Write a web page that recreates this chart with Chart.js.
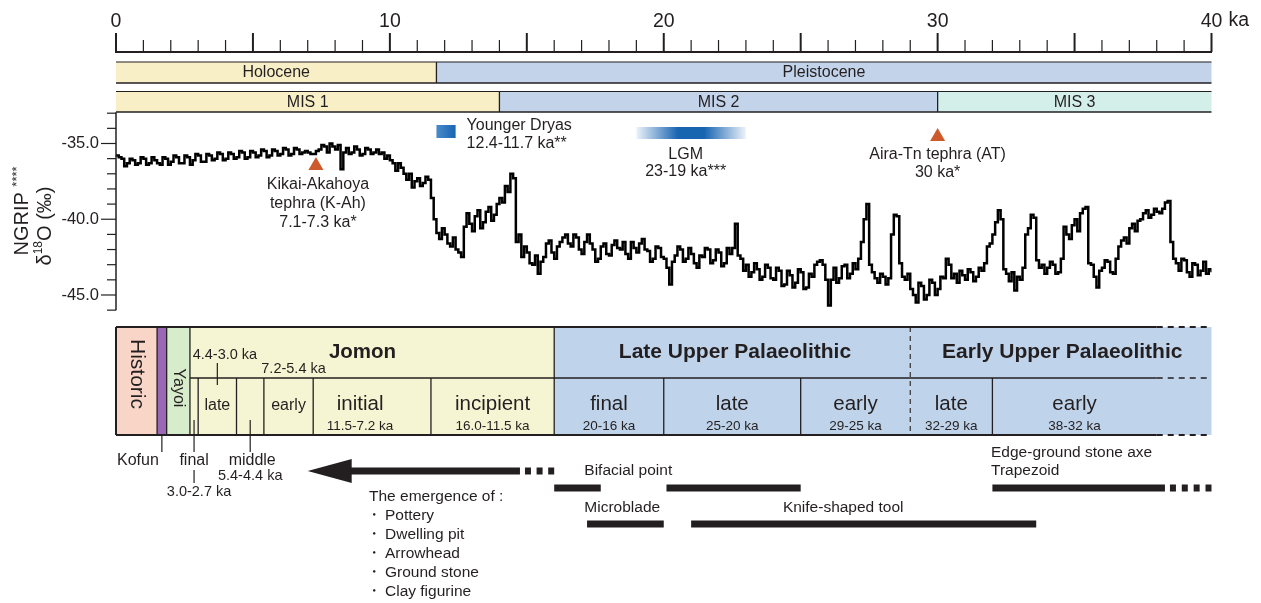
<!DOCTYPE html>
<html lang="en">
<head>
<meta charset="UTF-8">
<title>NGRIP d18O and Japanese archaeological periods, 0-40 ka</title>
<script src="https://cdn.jsdelivr.net/npm/chart.js"></script>
<style>
  body { margin: 0; background: #fff; }
  #wrap { width: 1261px; height: 603px; }
</style>
</head>
<body>
<div id="wrap"><canvas id="chart" width="1261" height="603"></canvas></div>
<script>
// ---- data (ka = thousand years ago) ----
const ages = [
  0.0, 0.1, 0.2, 0.3, 0.4, 0.5, 0.6, 0.7, 0.8, 0.9, 1.0, 1.1, 1.2, 1.3, 1.4, 1.5, 1.6, 1.7, 1.8, 1.9,
  2.0, 2.1, 2.2, 2.3, 2.4, 2.5, 2.6, 2.7, 2.8, 2.9, 3.0, 3.1, 3.2, 3.3, 3.4, 3.5, 3.6, 3.7, 3.8, 3.9,
  4.0, 4.1, 4.2, 4.3, 4.4, 4.5, 4.6, 4.7, 4.8, 4.9, 5.0, 5.1, 5.2, 5.3, 5.4, 5.5, 5.6, 5.7, 5.8, 5.9,
  6.0, 6.1, 6.2, 6.3, 6.4, 6.5, 6.6, 6.7, 6.8, 6.9, 7.0, 7.1, 7.2, 7.3, 7.4, 7.5, 7.6, 7.7, 7.8, 7.9,
  8.0, 8.1, 8.2, 8.3, 8.4, 8.5, 8.6, 8.7, 8.8, 8.9, 9.0, 9.1, 9.2, 9.3, 9.4, 9.5, 9.6, 9.7, 9.8, 9.9,
  10.0, 10.1, 10.2, 10.3, 10.4, 10.5, 10.6, 10.7, 10.8, 10.9, 11.0, 11.1, 11.2, 11.3, 11.4, 11.5, 11.6, 11.7, 11.8, 11.9,
  12.0, 12.1, 12.2, 12.3, 12.4, 12.5, 12.6, 12.7, 12.8, 12.9, 13.0, 13.1, 13.2, 13.3, 13.4, 13.5, 13.6, 13.7, 13.8, 13.9,
  14.0, 14.1, 14.2, 14.3, 14.4, 14.5, 14.6, 14.7, 14.8, 14.9, 15.0, 15.1, 15.2, 15.3, 15.4, 15.5, 15.6, 15.7, 15.8, 15.9,
  16.0, 16.1, 16.2, 16.3, 16.4, 16.5, 16.6, 16.7, 16.8, 16.9, 17.0, 17.1, 17.2, 17.3, 17.4, 17.5, 17.6, 17.7, 17.8, 17.9,
  18.0, 18.1, 18.2, 18.3, 18.4, 18.5, 18.6, 18.7, 18.8, 18.9, 19.0, 19.1, 19.2, 19.3, 19.4, 19.5, 19.6, 19.7, 19.8, 19.9,
  20.0, 20.1, 20.2, 20.3, 20.4, 20.5, 20.6, 20.7, 20.8, 20.9, 21.0, 21.1, 21.2, 21.3, 21.4, 21.5, 21.6, 21.7, 21.8, 21.9,
  22.0, 22.1, 22.2, 22.3, 22.4, 22.5, 22.6, 22.7, 22.8, 22.9, 23.0, 23.1, 23.2, 23.3, 23.4, 23.5, 23.6, 23.7, 23.8, 23.9,
  24.0, 24.1, 24.2, 24.3, 24.4, 24.5, 24.6, 24.7, 24.8, 24.9, 25.0, 25.1, 25.2, 25.3, 25.4, 25.5, 25.6, 25.7, 25.8, 25.9,
  26.0, 26.1, 26.2, 26.3, 26.4, 26.5, 26.6, 26.7, 26.8, 26.9, 27.0, 27.1, 27.2, 27.3, 27.4, 27.5, 27.6, 27.7, 27.8, 27.9,
  28.0, 28.1, 28.2, 28.3, 28.4, 28.5, 28.6, 28.7, 28.8, 28.9, 29.0, 29.1, 29.2, 29.3, 29.4, 29.5, 29.6, 29.7, 29.8, 29.9,
  30.0, 30.1, 30.2, 30.3, 30.4, 30.5, 30.6, 30.7, 30.8, 30.9, 31.0, 31.1, 31.2, 31.3, 31.4, 31.5, 31.6, 31.7, 31.8, 31.9,
  32.0, 32.1, 32.2, 32.3, 32.4, 32.5, 32.6, 32.7, 32.8, 32.9, 33.0, 33.1, 33.2, 33.3, 33.4, 33.5, 33.6, 33.7, 33.8, 33.9,
  34.0, 34.1, 34.2, 34.3, 34.4, 34.5, 34.6, 34.7, 34.8, 34.9, 35.0, 35.1, 35.2, 35.3, 35.4, 35.5, 35.6, 35.7, 35.8, 35.9,
  36.0, 36.1, 36.2, 36.3, 36.4, 36.5, 36.6, 36.7, 36.8, 36.9, 37.0, 37.1, 37.2, 37.3, 37.4, 37.5, 37.6, 37.7, 37.8, 37.9,
  38.0, 38.1, 38.2, 38.3, 38.4, 38.5, 38.6, 38.7, 38.8, 38.9, 39.0, 39.1, 39.2, 39.3, 39.4, 39.5, 39.6, 39.7, 39.8, 39.9,
  40.0
];
// NGRIP delta-18O (permil)
const d18O = [
  -35.8, -35.9, -36.0, -36.5, -36.3, -36.0, -36.1, -36.4, -36.3, -35.9, -36.0, -36.4, -36.3, -35.9, -36.1, -36.3, -36.4, -35.9, -36.0, -36.4,
  -36.2, -35.8, -35.9, -36.3, -36.3, -35.8, -35.9, -36.4, -36.1, -35.7, -35.8, -36.2, -36.2, -35.7, -35.8, -36.1, -36.0, -35.6, -35.7, -36.1,
  -36.0, -35.6, -35.7, -36.0, -35.9, -35.5, -35.6, -36.0, -35.9, -35.5, -35.6, -35.9, -35.8, -35.4, -35.5, -35.9, -35.8, -35.4, -35.5, -35.8,
  -35.7, -35.3, -35.4, -35.8, -35.7, -35.3, -35.4, -35.7, -35.6, -35.5, -35.6, -35.7, -35.7, -35.5, -35.4, -35.1, -35.2, -35.6, -35.0, -35.2,
  -35.4, -35.1, -36.7, -35.6, -35.3, -35.7, -35.6, -35.2, -35.4, -35.8, -35.7, -35.3, -35.4, -35.7, -35.6, -35.4, -35.7, -35.6, -36.0, -35.8,
  -36.1, -36.3, -36.8, -36.3, -36.6, -37.0, -37.4, -37.0, -37.9, -37.5, -37.3, -37.8, -37.6, -37.2, -37.4, -38.6, -40.0, -40.9, -41.3, -40.6,
  -41.0, -41.6, -41.8, -41.2, -42.0, -42.2, -42.5, -40.5, -39.6, -40.3, -40.8, -39.8, -39.4, -40.6, -40.2, -39.5, -39.2, -40.1, -39.7, -39.0,
  -38.6, -38.9, -37.8, -38.2, -37.0, -37.3, -41.5, -41.0, -42.5, -41.8, -42.2, -42.9, -43.0, -42.4, -43.6, -42.8, -42.5, -41.6, -41.4, -42.2,
  -42.6, -41.8, -41.5, -41.2, -41.0, -41.6, -41.8, -41.0, -41.2, -42.0, -42.3, -41.5, -41.0, -41.6, -42.0, -42.8, -42.6, -41.8, -41.6, -42.3,
  -42.4, -41.7, -41.4, -41.9, -42.0, -41.5, -42.3, -42.6, -41.5, -41.9, -42.2, -41.6, -41.3, -42.0, -42.1, -42.8, -42.6, -41.8, -41.9, -42.5,
  -42.6, -43.2, -44.3, -42.8, -42.4, -41.8, -42.0, -42.8, -42.6, -41.9, -42.3, -42.9, -43.2, -42.4, -42.5, -41.9, -42.0, -42.9, -42.7, -42.0,
  -42.2, -43.1, -42.9, -41.9, -42.3, -41.9, -40.3, -42.4, -42.6, -43.4, -43.0, -43.8, -43.5, -42.9, -43.3, -44.0, -43.8, -43.0, -43.2, -43.9,
  -44.0, -43.2, -43.4, -44.4, -44.3, -43.4, -43.7, -44.5, -44.2, -43.3, -43.5, -44.6, -44.5, -43.6, -43.8, -43.0, -42.8, -42.7, -43.0, -44.0,
  -45.7, -44.0, -43.2, -44.2, -43.9, -43.1, -43.0, -43.9, -43.6, -42.9, -43.3, -42.6, -41.5, -40.0, -39.0, -43.0, -43.5, -43.9, -44.2, -43.6,
  -43.8, -44.3, -43.9, -41.0, -39.7, -39.8, -42.9, -43.8, -44.0, -43.6, -44.6, -45.0, -45.5, -44.2, -44.4, -45.3, -45.0, -44.0, -44.2, -45.0,
  -44.6, -43.8, -43.9, -42.6, -43.0, -43.9, -43.6, -44.2, -43.4, -43.7, -44.0, -43.3, -43.5, -44.1, -43.8, -43.2, -43.4, -42.9, -41.8, -41.6,
  -41.0, -40.2, -39.4, -40.0, -43.3, -43.6, -44.1, -43.5, -44.7, -43.8, -44.0, -43.2, -41.0, -40.6, -39.7, -39.9, -42.7, -43.2, -43.0, -43.6,
  -43.2, -42.8, -43.0, -43.6, -43.5, -42.6, -40.5, -41.0, -41.3, -40.4, -40.0, -40.8, -39.6, -39.3, -39.2, -42.9, -43.0, -43.8, -44.5, -43.4,
  -43.2, -42.7, -42.8, -43.5, -43.6, -42.6, -41.8, -41.4, -41.2, -41.6, -40.6, -40.3, -40.8, -40.1, -40.0, -39.6, -39.4, -39.9, -39.7, -39.3,
  -39.5, -39.6, -39.3, -38.9, -38.8, -41.5, -42.6, -42.9, -43.4, -42.6, -42.7, -43.5, -43.8, -42.9, -43.0, -43.7, -43.4, -42.8, -43.6, -43.3,
  -43.5
];
const ageTicks = [0, 1, 2, 3, 4, 5, 6, 7, 8, 9, 10, 11, 12, 13, 14, 15, 16, 17, 18, 19, 20,
                  21, 22, 23, 24, 25, 26, 27, 28, 29, 30, 31, 32, 33, 34, 35, 36, 37, 38, 39, 40];
const d18OTicks = [-33, -34, -35, -36, -37, -38, -39, -40, -41, -42, -43, -44, -45, -46];

const epochNames = ['Holocene', 'Pleistocene'];
const epochStart = [0, 11.7];
const epochEnd = [11.7, 40];
const misNames = ['MIS 1', 'MIS 2', 'MIS 3'];
const misStart = [0, 14, 30];
const misEnd = [14, 30, 40];

const tephraAges = [7.3, 30];
const ydRange = [11.7, 12.4];
const lgmRange = [19, 23];

const fullNames = ['Historic', 'Kofun', 'Yayoi'];
const fullStart = [0, 1.5, 1.85];
const fullEnd = [1.5, 1.85, 2.7];
const groupNames = ['Jomon', 'Late Upper Palaeolithic', 'Early Upper Palaeolithic'];
const groupStart = [2.7, 16, 29];
const groupEnd = [16, 29, 40];
const subNames = ['final', 'late', 'middle', 'early', 'initial', 'incipient', 'final', 'late', 'early', 'late', 'early', ''];
const subStart = [2.7, 3.0, 4.4, 5.4, 7.2, 11.5, 16, 20, 25, 29, 32, 38];
const subEnd = [3.0, 4.4, 5.4, 7.2, 11.5, 16, 20, 25, 29, 32, 38, 40];
const subRanges = ['3.0-2.7 ka', '4.4-3.0 ka', '5.4-4.4 ka', '7.2-5.4 ka', '11.5-7.2 ka', '16.0-11.5 ka',
                   '20-16 ka', '25-20 ka', '29-25 ka', '32-29 ka', '38-32 ka', ''];

const emergenceItems = ['Pottery', 'Dwelling pit', 'Arrowhead', 'Ground stone', 'Clay figurine'];
const potteryArrow = [7.0, 14.75];
const potteryDotted = [14.75, 16.0];
const bifacialRanges = [[16, 17.7], [20.1, 25]];
const microbladeRanges = [[17.2, 20]];
const knifeRanges = [[21, 33.6]];
const edgeRanges = [[32, 38.3]];
const edgeDotted = [38.3, 40];

// ---- styles and layout ----
const FONT = "'Liberation Sans', Arial, Helvetica, sans-serif";
const INK = '#231f20';
const Y_MAX = -28.961, Y_MIN = -64.545;
const epochFill = ['#f8efc6', '#c3d4ea'];
const misFill = ['#f8efc6', '#c3d4ea', '#d4efe9'];
const fullFill = ['#f9d5c8', '#9b68b5', '#d6ecca'];
const groupFill = ['#f6f5d3', '#bfd3ea', '#bfd3ea'];
const ROW1 = [62, 83], ROW2 = [91.5, 112];
const TBL = { top: 327, mid: 378, bottom: 435 };

function txt(ctx, s, x, y, size, o) {
  o = o || {};
  ctx.save();
  ctx.font = (o.bold ? 'bold ' : '') + size + 'px ' + FONT;
  ctx.fillStyle = o.color || INK;
  ctx.textAlign = o.align || 'center';
  ctx.textBaseline = 'middle';
  ctx.translate(x, y);
  if (o.rot) ctx.rotate(o.rot);
  ctx.fillText(s, 0, 0);
  ctx.restore();
}
function line(ctx, x0, y0, x1, y1, w, dash) {
  ctx.save();
  ctx.strokeStyle = INK;
  ctx.lineWidth = w;
  ctx.setLineDash(dash || []);
  ctx.beginPath();
  ctx.moveTo(x0, y0);
  ctx.lineTo(x1, y1);
  ctx.stroke();
  ctx.restore();
}
function rotParts(ctx, parts, cx, cy) {
  ctx.save();
  ctx.translate(cx, cy);
  ctx.rotate(-Math.PI / 2);
  ctx.fillStyle = INK;
  ctx.textBaseline = 'middle';
  ctx.textAlign = 'left';
  let total = 0;
  parts.forEach(p => { ctx.font = p.size + 'px ' + FONT; p.w = ctx.measureText(p.s).width; total += p.w; });
  let x = -total / 2;
  parts.forEach(p => { ctx.font = p.size + 'px ' + FONT; ctx.fillText(p.s, x, p.dy || 0); x += p.w; });
  ctx.restore();
}

const overlay = {
  id: 'overlay',
  afterDraw(chart) {
    const ctx = chart.ctx;
    const xs = chart.scales.x, ys = chart.scales.y;
    const area = chart.chartArea;
    const X = v => xs.getPixelForValue(v);
    const Y = v => ys.getPixelForValue(v);

    // top time axis tick marks
    xs.ticks.forEach(t => {
      const px = X(t.value), major = t.value % 5 === 0;
      line(ctx, px, area.top, px, area.top - (major ? 19 : 12), major ? 2 : 1.2);
    });
    txt(ctx, 'ka', X(40) + 17, 20.5, 19.5, { align: 'left' });

    // d18O axis
    line(ctx, area.left, Y(-33) - 1, area.left, Y(-46), 1.5);
    ys.ticks.forEach(t => {
      const py = Y(t.value), major = t.value % 5 === 0;
      line(ctx, area.left - (major ? 15 : 9), py, area.left, py, 1.2);
    });
    rotParts(ctx, [{ s: 'NGRIP ', size: 20 }, { s: '****', size: 13, dy: -5 }], 22, 211);
    rotParts(ctx, [{ s: 'δ', size: 20 }, { s: '18', size: 12, dy: -6 }, { s: 'O (‰)', size: 20 }], 45, 226);

    // epoch and MIS bands
    function band(row, names, st, en, fills) {
      names.forEach((n, i) => {
        ctx.fillStyle = fills[i];
        ctx.fillRect(X(st[i]), row[0], X(en[i]) - X(st[i]), row[1] - row[0]);
        txt(ctx, n, (X(st[i]) + X(en[i])) / 2, (row[0] + row[1]) / 2 + 0.5, 16);
        if (i > 0) line(ctx, X(st[i]), row[0], X(st[i]), row[1], 1.3);
      });
      line(ctx, X(st[0]), row[0], X(en[en.length - 1]), row[0], 1.2);
      line(ctx, X(st[0]), row[1], X(en[en.length - 1]), row[1], 1.6);
    }
    band(ROW1, epochNames, epochStart, epochEnd, epochFill);
    band(ROW2, misNames, misStart, misEnd, misFill);

    // tephra markers
    const tri = (k, top) => {
      const cx = X(k);
      ctx.fillStyle = '#cc5a2b';
      ctx.beginPath();
      ctx.moveTo(cx, top); ctx.lineTo(cx + 7.5, top + 13); ctx.lineTo(cx - 7.5, top + 13);
      ctx.closePath(); ctx.fill();
    };
    tri(tephraAges[0], 157);
    txt(ctx, 'Kikai-Akahoya', X(tephraAges[0]) + 2, 185, 16);
    txt(ctx, 'tephra (K-Ah)', X(tephraAges[0]) + 2, 204, 16);
    txt(ctx, '7.1-7.3 ka*', X(tephraAges[0]) + 2, 223, 16);
    tri(tephraAges[1], 128);
    txt(ctx, 'Aira-Tn tephra (AT)', X(tephraAges[1]), 155, 16);
    txt(ctx, '30 ka*', X(tephraAges[1]), 173, 16);

    // Younger Dryas and LGM bars
    let g = ctx.createLinearGradient(X(ydRange[0]), 0, X(ydRange[1]), 0);
    g.addColorStop(0, '#4a8bcb'); g.addColorStop(1, '#1765b1');
    ctx.fillStyle = g;
    ctx.fillRect(X(ydRange[0]), 125, X(ydRange[1]) - X(ydRange[0]), 13);
    txt(ctx, 'Younger Dryas', X(ydRange[1]) + 11, 126, 16, { align: 'left' });
    txt(ctx, '12.4-11.7 ka**', X(ydRange[1]) + 11, 144, 16, { align: 'left' });
    g = ctx.createLinearGradient(X(lgmRange[0]), 0, X(lgmRange[1]), 0);
    g.addColorStop(0, 'rgba(23,101,177,0.08)');
    g.addColorStop(0.38, '#1765b1');
    g.addColorStop(0.62, '#1765b1');
    g.addColorStop(1, 'rgba(23,101,177,0.08)');
    ctx.fillStyle = g;
    ctx.fillRect(X(lgmRange[0]), 127, X(lgmRange[1]) - X(lgmRange[0]), 12);
    txt(ctx, 'LGM', X(20.8), 155, 16);
    txt(ctx, '23-19 ka***', X(20.8), 172, 16);

    // archaeological period table
    const T = TBL;
    fullNames.forEach((n, i) => {
      ctx.fillStyle = fullFill[i];
      ctx.fillRect(X(fullStart[i]), T.top, X(fullEnd[i]) - X(fullStart[i]), T.bottom - T.top);
    });
    groupNames.forEach((n, i) => {
      ctx.fillStyle = groupFill[i];
      ctx.fillRect(X(groupStart[i]), T.top, X(groupEnd[i]) - X(groupStart[i]), T.bottom - T.top);
    });
    const lastSolid = subStart[subStart.length - 1];
    line(ctx, X(0), T.top, X(lastSolid), T.top, 2);
    line(ctx, X(lastSolid), T.top, X(40), T.top, 2, [6, 5]);
    line(ctx, X(0), T.bottom, X(lastSolid), T.bottom, 2);
    line(ctx, X(lastSolid), T.bottom, X(40), T.bottom, 2, [6, 5]);
    line(ctx, X(groupStart[0]), T.mid, X(lastSolid), T.mid, 1.3);
    line(ctx, X(lastSolid), T.mid, X(40), T.mid, 1.3, [6, 5]);
    [0, fullStart[1], fullStart[2], groupStart[0], groupStart[1]].forEach((k, i) =>
      line(ctx, X(k), T.top, X(k), T.bottom, i === 0 ? 2 : 1.3));
    line(ctx, X(groupStart[2]), T.top, X(groupStart[2]), T.bottom, 1.1, [5, 4]);
    subStart.forEach((k, i) => {
      if (i === 0 || groupStart.includes(k) || k === lastSolid) return;
      line(ctx, X(k), T.mid, X(k), T.bottom, 1.3);
    });

    txt(ctx, fullNames[0], (X(fullStart[0]) + X(fullEnd[0])) / 2, 374, 21, { rot: Math.PI / 2 });
    txt(ctx, fullNames[2], (X(fullStart[2]) + X(fullEnd[2])) / 2, 388, 16, { rot: Math.PI / 2 });
    const groupLabelKa = [9.0, 22.6, 34.55];
    groupNames.forEach((n, i) => txt(ctx, n, X(groupLabelKa[i]), 352, i === 0 ? 20.5 : 21, { bold: true }));

    const mid = i => (X(subStart[i]) + X(subEnd[i])) / 2;
    // Jomon small cells
    txt(ctx, subNames[1], mid(1), 406, 16);
    txt(ctx, subNames[3], mid(3), 406, 16);
    txt(ctx, subRanges[1], X(2.8), 355, 14.5, { align: 'left' });
    line(ctx, mid(1), 363, mid(1), 385, 1.2);
    txt(ctx, subRanges[3], mid(3) + 5, 369, 14.5);
    // big cells with date ranges
    const bigOffset = { 4: -12 };
    [4, 5, 6, 7, 8, 9, 10].forEach(i => {
      const cx = mid(i) + (bigOffset[i] || 0);
      txt(ctx, subNames[i], cx, 404, 20.5);
      txt(ctx, subRanges[i], cx, 426, 13.5);
    });
    // labels below the table
    const kofunX = (X(fullStart[1]) + X(fullEnd[1])) / 2;
    line(ctx, kofunX, T.bottom, kofunX, 452, 1.2);
    txt(ctx, fullNames[1], X(0.8), 461, 16);
    line(ctx, mid(0), 420, mid(0), 452, 1.2);
    txt(ctx, subNames[0], mid(0), 461, 16);
    line(ctx, mid(0), 470, mid(0), 483, 1.2);
    txt(ctx, subRanges[0], mid(0) + 5, 492, 14.5);
    line(ctx, mid(2), 420, mid(2), 452, 1.2);
    txt(ctx, subNames[2], mid(2) + 2, 461, 16);
    txt(ctx, subRanges[2], mid(2), 476, 14.5);

    // tools
    ctx.fillStyle = INK;
    const bar = (r, y) => ctx.fillRect(X(r[0]), y - 3.5, X(r[1]) - X(r[0]), 7);
    const dots = (r, y, n, w) => {
      const x0 = X(r[0]) + 5, x1 = X(r[1]);
      const step = (x1 - x0 - w) / (n - 1);
      for (let j = 0; j < n; j++) ctx.fillRect(x0 + j * step, y - 3.5, w, 7);
    };
    // pottery arrow (pointing to younger ages)
    const ay = 471;
    ctx.fillRect(X(potteryArrow[0]) + 40, ay - 3.5, X(potteryArrow[1]) - X(potteryArrow[0]) - 40, 7);
    ctx.beginPath();
    ctx.moveTo(X(potteryArrow[0]), ay);
    ctx.lineTo(X(potteryArrow[0]) + 44, ay - 12);
    ctx.lineTo(X(potteryArrow[0]) + 44, ay + 12);
    ctx.closePath(); ctx.fill();
    dots(potteryDotted, ay, 3, 6);
    txt(ctx, 'The emergence of :', 369, 497, 15.5, { align: 'left' });
    emergenceItems.forEach((s, j) => {
      txt(ctx, '・', 366, 516 + j * 19, 15.5, { align: 'left' });
      txt(ctx, s, 385, 516 + j * 19, 15.5, { align: 'left' });
    });

    bifacialRanges.forEach(r => bar(r, 488));
    microbladeRanges.forEach(r => bar(r, 524));
    knifeRanges.forEach(r => bar(r, 524));
    edgeRanges.forEach(r => bar(r, 488));
    dots(edgeDotted, 488, 4, 6);
    txt(ctx, 'Bifacial point', X(17.1), 471, 15.5, { align: 'left' });
    txt(ctx, 'Microblade', X(17.1), 508, 15.5, { align: 'left' });
    txt(ctx, 'Knife-shaped tool', X(24.35), 508, 15.5, { align: 'left' });
    txt(ctx, 'Edge-ground stone axe', X(31.95), 453, 15.5, { align: 'left' });
    txt(ctx, 'Trapezoid', X(31.95), 471, 15.5, { align: 'left' });
  }
};

new Chart(document.getElementById('chart'), {
  type: 'line',
  data: {
    datasets: [{
      label: 'NGRIP δ18O',
      data: ages.map((a, i) => ({ x: a, y: d18O[i] })),
      stepped: true,
      borderColor: '#000',
      borderWidth: 2.5,
      pointRadius: 0,
      fill: false
    }]
  },
  options: {
    responsive: false,
    animation: false,
    devicePixelRatio: 1,
    layout: { padding: { left: 0, right: 49.5, top: 0, bottom: 3 } },
    plugins: { legend: { display: false }, tooltip: { enabled: false } },
    scales: {
      x: {
        type: 'linear', position: 'top', min: 0, max: 40,
        afterBuildTicks: s => { s.ticks = ageTicks.map(v => ({ value: v })); },
        afterFit: s => { s.height = 52; },
        grid: { display: false, drawTicks: true, tickLength: 19 },
        border: { display: true, color: INK, width: 2 },
        ticks: {
          autoSkip: false, maxRotation: 0, padding: 0, color: INK,
          font: { family: FONT, size: 19.5 },
          callback: v => (v % 10 === 0 ? String(v) : '')
        }
      },
      y: {
        type: 'linear', min: Y_MIN, max: Y_MAX,
        afterBuildTicks: s => { s.ticks = d18OTicks.map(v => ({ value: v })); },
        afterFit: s => { s.width = 116; },
        grid: { display: false, drawTicks: true, tickLength: 15 },
        border: { display: false },
        ticks: {
          autoSkip: false, padding: 2, color: INK,
          font: { family: FONT, size: 16.5 },
          callback: v => (v % 5 === 0 ? v.toFixed(1) : '')
        }
      }
    }
  },
  plugins: [overlay]
});
</script>
</body>
</html>
